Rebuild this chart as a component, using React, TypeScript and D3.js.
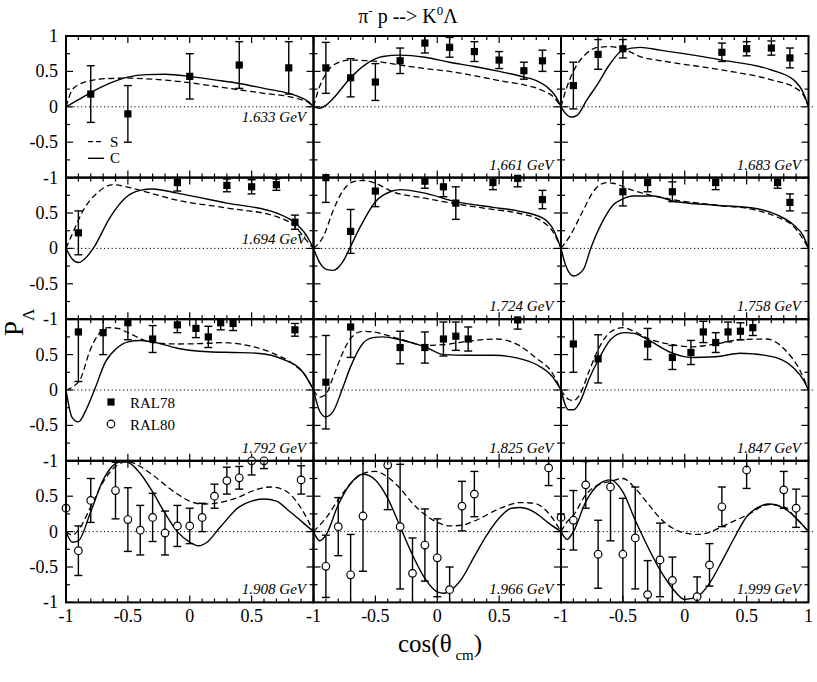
import React from 'react';
import * as d3 from 'd3';

type Pt = [number, number];
type Obs = [number, number, number];

// curves: [cos, P]   data: [cos, P, err]
const ENERGIES = ['1.633', '1.661', '1.683', '1.694', '1.724', '1.758', '1.792', '1.825', '1.847', '1.908', '1.966', '1.999'];

const C_1633: Pt[] = [[-1,0],[-0.9,0.1],[-0.8,0.2],[-0.65,0.33],[-0.5,0.42],[-0.35,0.455],[-0.2,0.46],[0,0.43],[0.2,0.38],[0.4,0.33],[0.6,0.26],[0.8,0.19],[0.9,0.13],[0.96,0.07],[1,0]];
const S_1633: Pt[] = [[-1,0],[-0.95,0.24],[-0.9,0.31],[-0.8,0.37],[-0.65,0.4],[-0.5,0.405],[-0.3,0.39],[0,0.34],[0.2,0.29],[0.4,0.24],[0.6,0.19],[0.8,0.145],[0.9,0.1],[0.96,0.06],[1,0]];
const D_1633: Obs[] = [[-0.8,0.18,0.4],[-0.5,-0.1,0.4],[0,0.43,0.32],[0.4,0.59,0.33],[0.8,0.55,0.37]];

const C_1661: Pt[] = [[-1,0],[-0.95,-0.02],[-0.9,0.02],[-0.84,0.12],[-0.7,0.41],[-0.57,0.61],[-0.44,0.71],[-0.3,0.73],[-0.1,0.7],[0.1,0.63],[0.3,0.57],[0.5,0.5],[0.7,0.42],[0.8,0.37],[0.88,0.29],[0.96,0.14],[1,0]];
const S_1661: Pt[] = [[-1,0],[-0.95,0.29],[-0.9,0.46],[-0.84,0.59],[-0.7,0.66],[-0.54,0.65],[-0.3,0.59],[-0.1,0.54],[0.1,0.5],[0.3,0.44],[0.5,0.37],[0.7,0.31],[0.85,0.23],[0.95,0.12],[1,0]];
const D_1661: Obs[] = [[-0.9,0.55,0.36],[-0.7,0.41,0.27],[-0.5,0.35,0.26],[-0.3,0.65,0.18],[-0.1,0.9,0.14],[0.1,0.84,0.14],[0.3,0.78,0.14],[0.5,0.66,0.12],[0.7,0.51,0.12],[0.85,0.65,0.15]];

const C_1683: Pt[] = [[-1,0],[-0.96,-0.1],[-0.92,-0.145],[-0.87,-0.12],[-0.79,0.1],[-0.7,0.33],[-0.61,0.59],[-0.5,0.8],[-0.36,0.84],[-0.2,0.8],[0.3,0.66],[0.7,0.52],[0.88,0.38],[0.96,0.19],[1,0]];
const S_1683: Pt[] = [[-1,0],[-0.96,0.24],[-0.9,0.5],[-0.79,0.76],[-0.7,0.84],[-0.61,0.85],[-0.5,0.82],[-0.36,0.71],[-0.15,0.64],[0.3,0.52],[0.7,0.38],[0.9,0.26],[0.97,0.13],[1,0]];
const D_1683: Obs[] = [[-0.9,0.3,0.33],[-0.7,0.74,0.21],[-0.5,0.82,0.13],[0.3,0.77,0.13],[0.5,0.82,0.1],[0.7,0.83,0.1],[0.85,0.69,0.14]];

const C_1694: Pt[] = [[-1,0],[-0.95,-0.15],[-0.9,-0.2],[-0.85,-0.15],[-0.78,0],[-0.64,0.45],[-0.51,0.73],[-0.4,0.82],[-0.3,0.84],[-0.1,0.78],[0.3,0.64],[0.7,0.5],[0.85,0.36],[0.94,0.19],[1,0]];
const S_1694: Pt[] = [[-1,0],[-0.94,0.24],[-0.86,0.54],[-0.75,0.78],[-0.62,0.9],[-0.51,0.87],[-0.4,0.82],[-0.1,0.68],[0.3,0.57],[0.7,0.45],[0.85,0.31],[0.94,0.12],[1,0]];
const D_1694: Obs[] = [[-0.9,0.22,0.31],[-0.1,0.93,0.12],[0.3,0.89,0.09],[0.5,0.87,0.1],[0.7,0.9,0.08],[0.85,0.37,0.1]];

const C_1724: Pt[] = [[-1,0],[-0.95,-0.2],[-0.89,-0.3],[-0.84,-0.31],[-0.76,-0.18],[-0.7,0.03],[-0.62,0.31],[-0.5,0.66],[-0.38,0.8],[-0.3,0.83],[-0.1,0.78],[0.15,0.66],[0.45,0.58],[0.65,0.53],[0.85,0.43],[0.94,0.26],[1,0]];
const S_1724: Pt[] = [[-1,0],[-0.92,0.17],[-0.84,0.54],[-0.76,0.82],[-0.68,0.94],[-0.6,0.96],[-0.5,0.92],[-0.36,0.8],[-0.1,0.71],[0.15,0.63],[0.45,0.55],[0.65,0.5],[0.85,0.38],[0.94,0.22],[1,0]];
const D_1724: Obs[] = [[-0.9,1.0,0.35],[-0.7,0.24,0.31],[-0.5,0.81,0.22],[-0.1,0.95,0.1],[0.05,0.87,0.14],[0.15,0.64,0.23],[0.45,0.93,0.1],[0.65,0.99,0.12],[0.85,0.69,0.13]];

const C_1758: Pt[] = [[-1,0],[-0.96,-0.25],[-0.9,-0.39],[-0.82,-0.3],[-0.76,0],[-0.67,0.36],[-0.58,0.61],[-0.5,0.7],[-0.42,0.74],[-0.25,0.74],[-0.1,0.67],[0.25,0.61],[0.55,0.57],[0.75,0.47],[0.88,0.33],[0.96,0.17],[1,0]];
const S_1758: Pt[] = [[-1,0],[-0.93,0.17],[-0.82,0.54],[-0.74,0.8],[-0.63,0.93],[-0.58,0.92],[-0.42,0.82],[-0.25,0.74],[-0.1,0.69],[0.25,0.61],[0.55,0.55],[0.75,0.44],[0.88,0.31],[0.96,0.12],[1,0]];
const D_1758: Obs[] = [[-0.5,0.8,0.2],[-0.3,0.93,0.13],[-0.1,0.8,0.14],[0.25,0.93,0.1],[0.75,0.93,0.08],[0.85,0.65,0.12]];

const C_1792: Pt[] = [[-1,0],[-0.95,-0.39],[-0.9,-0.45],[-0.83,-0.25],[-0.77,0],[-0.68,0.4],[-0.59,0.59],[-0.5,0.68],[-0.4,0.7],[-0.3,0.68],[-0.1,0.59],[0.15,0.54],[0.35,0.53],[0.54,0.52],[0.76,0.43],[0.92,0.24],[1,0]];
const S_1792: Pt[] = [[-1,0],[-0.94,0.05],[-0.88,0.17],[-0.81,0.54],[-0.74,0.78],[-0.66,0.88],[-0.58,0.87],[-0.5,0.81],[-0.3,0.67],[-0.1,0.65],[0.15,0.66],[0.25,0.67],[0.4,0.65],[0.67,0.52],[0.84,0.36],[0.94,0.19],[1,0]];
const D_1792: Obs[] = [[-0.9,0.82,0.7],[-0.7,0.81,0.31],[-0.5,0.95,0.24],[-0.3,0.72,0.19],[-0.1,0.92,0.11],[0.05,0.87,0.13],[0.15,0.75,0.15],[0.25,0.95,0.1],[0.35,0.94,0.1],[0.85,0.85,0.09]];

const C_1825: Pt[] = [[-1,0],[-0.95,-0.3],[-0.9,-0.38],[-0.84,-0.3],[-0.77,0],[-0.7,0.33],[-0.6,0.66],[-0.52,0.74],[-0.44,0.75],[-0.3,0.71],[-0.1,0.61],[0.05,0.5],[0.25,0.49],[0.45,0.49],[0.65,0.45],[0.8,0.36],[0.93,0.19],[1,0]];
const S_1825: Pt[] = [[-1,0],[-0.95,-0.1],[-0.9,-0.06],[-0.84,0.19],[-0.77,0.5],[-0.7,0.73],[-0.6,0.83],[-0.52,0.82],[-0.3,0.72],[-0.1,0.63],[0.05,0.64],[0.25,0.69],[0.48,0.72],[0.65,0.64],[0.8,0.45],[0.93,0.24],[1,0]];
const D_1825: Obs[] = [[-0.9,0.11,0.66],[-0.7,0.89,0.43],[-0.3,0.6,0.23],[-0.1,0.6,0.22],[0.05,0.72,0.24],[0.15,0.76,0.2],[0.25,0.72,0.17],[0.65,0.99,0.13]];

const C_1847: Pt[] = [[-1,0],[-0.94,-0.28],[-0.9,-0.28],[-0.85,-0.18],[-0.77,0.17],[-0.7,0.42],[-0.6,0.71],[-0.49,0.81],[-0.41,0.8],[-0.3,0.71],[-0.1,0.52],[0.05,0.46],[0.25,0.47],[0.45,0.52],[0.55,0.51],[0.75,0.45],[0.88,0.31],[0.96,0.14],[1,0]];
const S_1847: Pt[] = [[-1,0],[-0.94,-0.13],[-0.9,-0.15],[-0.85,-0.07],[-0.77,0.28],[-0.7,0.57],[-0.6,0.82],[-0.5,0.88],[-0.41,0.83],[-0.3,0.73],[-0.1,0.64],[0.05,0.61],[0.25,0.65],[0.45,0.71],[0.66,0.72],[0.82,0.55],[0.93,0.28],[1,0]];
const D_1847: Obs[] = [[-0.9,0.65,0.4],[-0.7,0.44,0.34],[-0.3,0.65,0.22],[-0.1,0.46,0.17],[0.05,0.53,0.17],[0.15,0.82,0.15],[0.25,0.67,0.14],[0.35,0.82,0.14],[0.45,0.83,0.12],[0.55,0.88,0.11]];

const C_1908: Pt[] = [[-1,0],[-0.95,-0.15],[-0.9,-0.13],[-0.8,0.28],[-0.7,0.73],[-0.6,0.96],[-0.55,0.99],[-0.5,0.98],[-0.4,0.82],[-0.3,0.56],[-0.2,0.26],[-0.1,0],[0,-0.15],[0.07,-0.2],[0.14,-0.15],[0.24,0.05],[0.4,0.35],[0.5,0.43],[0.6,0.46],[0.7,0.43],[0.81,0.28],[0.92,0.12],[1,0]];
const S_1908: Pt[] = [[-1,0],[-0.95,-0.05],[-0.9,0.02],[-0.8,0.35],[-0.7,0.7],[-0.6,0.92],[-0.5,0.99],[-0.4,0.92],[-0.3,0.8],[-0.2,0.66],[-0.1,0.53],[0,0.43],[0.1,0.39],[0.2,0.4],[0.4,0.49],[0.5,0.57],[0.65,0.63],[0.76,0.59],[0.9,0.33],[1,0]];
const D_1908: Obs[] = [[-1.0,0.33,0],[-0.9,-0.27,0.35],[-0.8,0.44,0.31],[-0.6,0.58,0.4],[-0.5,0.17,0.45],[-0.4,0.02,0.35],[-0.3,0.2,0.34],[-0.2,-0.02,0.31],[-0.1,0.08,0.29],[0,0.08,0.25],[0.1,0.2,0.2],[0.2,0.5,0.17],[0.3,0.72,0.19],[0.4,0.76,0.16],[0.5,1.0,0.2],[0.6,1.0,0.11],[0.9,0.73,0.2]];

const C_1966: Pt[] = [[-1,0],[-0.95,-0.13],[-0.9,-0.05],[-0.8,0.38],[-0.7,0.68],[-0.6,0.81],[-0.5,0.73],[-0.4,0.47],[-0.3,0.07],[-0.2,-0.33],[-0.1,-0.66],[0,-0.85],[0.05,-0.87],[0.1,-0.84],[0.2,-0.66],[0.3,-0.35],[0.4,-0.05],[0.51,0.21],[0.6,0.33],[0.67,0.34],[0.78,0.28],[0.9,0.12],[1,0]];
const S_1966: Pt[] = [[-1,0],[-0.95,0.09],[-0.9,0.19],[-0.8,0.45],[-0.7,0.68],[-0.6,0.82],[-0.5,0.85],[-0.4,0.77],[-0.3,0.61],[-0.2,0.4],[-0.1,0.24],[0,0.13],[0.1,0.08],[0.2,0.09],[0.3,0.15],[0.51,0.33],[0.67,0.41],[0.78,0.4],[0.9,0.26],[1,0]];
const D_1966: Obs[] = [[-0.9,-0.49,0.44],[-0.8,0.07,0.41],[-0.7,-0.61,0.57],[-0.6,0.22,0.78],[-0.4,0.94,0.63],[-0.3,0.07,0.88],[-0.2,-0.59,0.5],[-0.1,-0.19,0.51],[0,-0.37,0.55],[0.1,-0.82,0.32],[0.2,0.36,0.35],[0.3,0.53,0.32],[0.9,0.9,0.25]];

const C_1999: Pt[] = [[-1,0],[-0.95,-0.11],[-0.9,0],[-0.8,0.42],[-0.7,0.66],[-0.6,0.73],[-0.5,0.56],[-0.4,0.16],[-0.3,-0.21],[-0.2,-0.54],[-0.1,-0.8],[0,-0.96],[0.1,-0.92],[0.2,-0.73],[0.3,-0.42],[0.4,-0.09],[0.5,0.21],[0.6,0.35],[0.68,0.39],[0.8,0.33],[0.9,0.19],[1,0]];
const S_1999: Pt[] = [[-1,0],[-0.95,0.14],[-0.9,0.23],[-0.8,0.52],[-0.7,0.66],[-0.6,0.71],[-0.5,0.75],[-0.4,0.61],[-0.3,0.4],[-0.2,0.19],[-0.1,0.05],[0,-0.02],[0.1,-0.04],[0.2,-0.01],[0.3,0.07],[0.5,0.23],[0.68,0.38],[0.8,0.35],[0.9,0.19],[1,0]];
const D_1999: Obs[] = [[-1.0,0.2,0],[-0.9,0.16,0.42],[-0.8,0.66,0.33],[-0.7,-0.32,0.48],[-0.6,0.63,0.76],[-0.5,-0.32,0.79],[-0.4,-0.09,0.72],[-0.3,-0.89,0.48],[-0.2,-0.4,0.52],[-0.1,-0.69,0.33],[0.1,-0.92,0.28],[0.2,-0.47,0.3],[0.3,0.35,0.28],[0.5,0.87,0.26],[0.8,0.59,0.26],[0.9,0.33,0.27]];

const CURVES_C = [C_1633, C_1661, C_1683, C_1694, C_1724, C_1758, C_1792, C_1825, C_1847, C_1908, C_1966, C_1999];
const CURVES_S = [S_1633, S_1661, S_1683, S_1694, S_1724, S_1758, S_1792, S_1825, S_1847, S_1908, S_1966, S_1999];
const DATA = [D_1633, D_1661, D_1683, D_1694, D_1724, D_1758, D_1792, D_1825, D_1847, D_1908, D_1966, D_1999];
const RAL80_PANELS = [9, 10, 11];
const Y_TICK_LABELS = [0.5, 0, -0.5, -1];
const X_TICK_LABELS = [-1, -0.5, 0, 0.5];

const W = 817, H = 682;
const X0 = 66, PW = 247.5, Y0 = 36, PH = 141.6;
const FONT = 'Liberation Serif';

function Panel({ i }: { i: number }) {
  const col = i % 3, row = Math.floor(i / 3);
  const left = X0 + col * PW, top = Y0 + row * PH;
  const x = d3.scaleLinear().domain([-1, 1]).range([left, left + PW]);
  const y = d3.scaleLinear().domain([-1, 1]).range([top + PH, top]);
  const line = d3.line<Pt>().x(d => x(d[0])).y(d => y(d[1])).curve(d3.curveMonotoneX);
  const open = RAL80_PANELS.includes(i);

  const xt = d3.range(-10, 11).map(k => k / 10);
  const yt = d3.range(-4, 5).map(k => k / 4);
  const ticks: JSX.Element[] = [];
  xt.forEach((v, k) => {
    const major = Math.abs(v * 2 - Math.round(v * 2)) < 1e-6;
    const L = major ? 7 : 4;
    ticks.push(<line key={'xb' + k} x1={x(v)} x2={x(v)} y1={top + PH} y2={top + PH - L} />);
    ticks.push(<line key={'xt' + k} x1={x(v)} x2={x(v)} y1={top} y2={top + L} />);
  });
  yt.forEach((v, k) => {
    const major = Math.abs(v * 2 - Math.round(v * 2)) < 1e-6;
    const L = major ? 7 : 4;
    ticks.push(<line key={'yl' + k} x1={left} x2={left + L} y1={y(v)} y2={y(v)} />);
    ticks.push(<line key={'yr' + k} x1={left + PW} x2={left + PW - L} y1={y(v)} y2={y(v)} />);
  });

  const labelY = i === 0 ? y(0) + 15 : i === 3 ? y(0) - 4 : top + PH - 8;

  return (
    <g>
      <line x1={left} x2={left + PW + (col === 2 ? 6 : 0)} y1={y(0)} y2={y(0)} stroke="#000" strokeWidth={1} strokeDasharray="1.2,2.6" />
      <path d={line(CURVES_S[i]) || ''} fill="none" stroke="#000" strokeWidth={1.3} strokeDasharray="6,3.5" />
      <path d={line(CURVES_C[i]) || ''} fill="none" stroke="#000" strokeWidth={1.4} />
      {DATA[i].map((d, k) => {
        const hi = Math.min(1, d[1] + d[2]), lo = Math.max(-1, d[1] - d[2]);
        const cx = x(d[0]), cy = y(d[1]);
        return (
          <g key={k}>
            {d[2] > 0 && <line x1={cx} x2={cx} y1={y(hi)} y2={y(lo)} stroke="#000" strokeWidth={1.4} />}
            {d[2] > 0 && hi < 1 && <line x1={cx - 4} x2={cx + 4} y1={y(hi)} y2={y(hi)} stroke="#000" strokeWidth={1.4} />}
            {d[2] > 0 && lo > -1 && <line x1={cx - 4} x2={cx + 4} y1={y(lo)} y2={y(lo)} stroke="#000" strokeWidth={1.4} />}
            {open
              ? <circle cx={cx} cy={cy} r={3.8} fill="#fff" stroke="#000" strokeWidth={1.2} />
              : <rect x={cx - 3.6} y={cy - 3.6} width={7.2} height={7.2} fill="#000" />}
          </g>
        );
      })}
      <g stroke="#000" strokeWidth={1.2}>{ticks}</g>
      <rect x={left} y={top} width={PW} height={PH} fill="none" stroke="#000" strokeWidth={2} />
      <text x={left + 240} y={labelY} textAnchor="end" fontStyle="italic" fontSize={15} fontFamily={FONT}>
        {ENERGIES[i]} GeV
      </text>
    </g>
  );
}

export default function App() {
  const rows = [0, 1, 2, 3];
  const cols = [0, 1, 2];
  const yRow = (r: number) => d3.scaleLinear().domain([-1, 1]).range([Y0 + (r + 1) * PH, Y0 + r * PH]);
  const xCol = (c: number) => d3.scaleLinear().domain([-1, 1]).range([X0 + c * PW, X0 + (c + 1) * PW]);
  const bottom = Y0 + 4 * PH;
  return (
    <svg width={W} height={H} style={{ position: 'absolute', left: 0, top: 0, background: '#fff' }} fontFamily={FONT}>
      <rect width={W} height={H} fill="#fff" />
      {ENERGIES.map((_, i) => <Panel key={i} i={i} />)}

      {/* y tick labels */}
      <text x={58} y={Y0 + 6} textAnchor="end" fontSize={18}>1</text>
      {rows.map(r => Y_TICK_LABELS.map(v => (
        <text key={r + '_' + v} x={58} y={yRow(r)(v) + 6} textAnchor="end" fontSize={18}>{String(v)}</text>
      )))}

      {/* x tick labels */}
      {cols.map(c => X_TICK_LABELS.map(v => (
        <text key={c + '_' + v} x={xCol(c)(v)} y={bottom + 20} textAnchor="middle" fontSize={18}>{String(v)}</text>
      )))}
      <text x={xCol(2)(1)} y={bottom + 20} textAnchor="middle" fontSize={18}>1</text>

      {/* title */}
      <text x={408} y={23} textAnchor="middle" fontSize={20}>
        π<tspan dy={-8} fontSize={13}>-</tspan><tspan dy={8}> p --&gt; K</tspan><tspan dy={-8} fontSize={13}>0</tspan><tspan dy={8}>Λ</tspan>
      </text>

      {/* axis titles */}
      <text x={398} y={652} fontSize={25}>
        cos(θ<tspan dy={8} fontSize={15}> cm</tspan><tspan dy={-8}>)</tspan>
      </text>
      <text transform="translate(23,336) rotate(-90)" fontSize={27}>
        P<tspan dy={11} fontSize={17}>Λ</tspan>
      </text>

      {/* S / C legend */}
      <line x1={88} x2={104} y1={141.7} y2={141.7} stroke="#000" strokeWidth={1.3} strokeDasharray="5,3" />
      <text x={110} y={147} fontSize={15}>S</text>
      <line x1={88} x2={104} y1={158.3} y2={158.3} stroke="#000" strokeWidth={1.4} />
      <text x={110} y={163} fontSize={15}>C</text>

      {/* data legend */}
      <rect x={107.4} y={398.4} width={7.2} height={7.2} fill="#000" />
      <text x={130} y={408} fontSize={15}>RAL78</text>
      <circle cx={111} cy={424} r={3.8} fill="#fff" stroke="#000" strokeWidth={1.2} />
      <text x={130} y={430} fontSize={15}>RAL80</text>
    </svg>
  );
}
